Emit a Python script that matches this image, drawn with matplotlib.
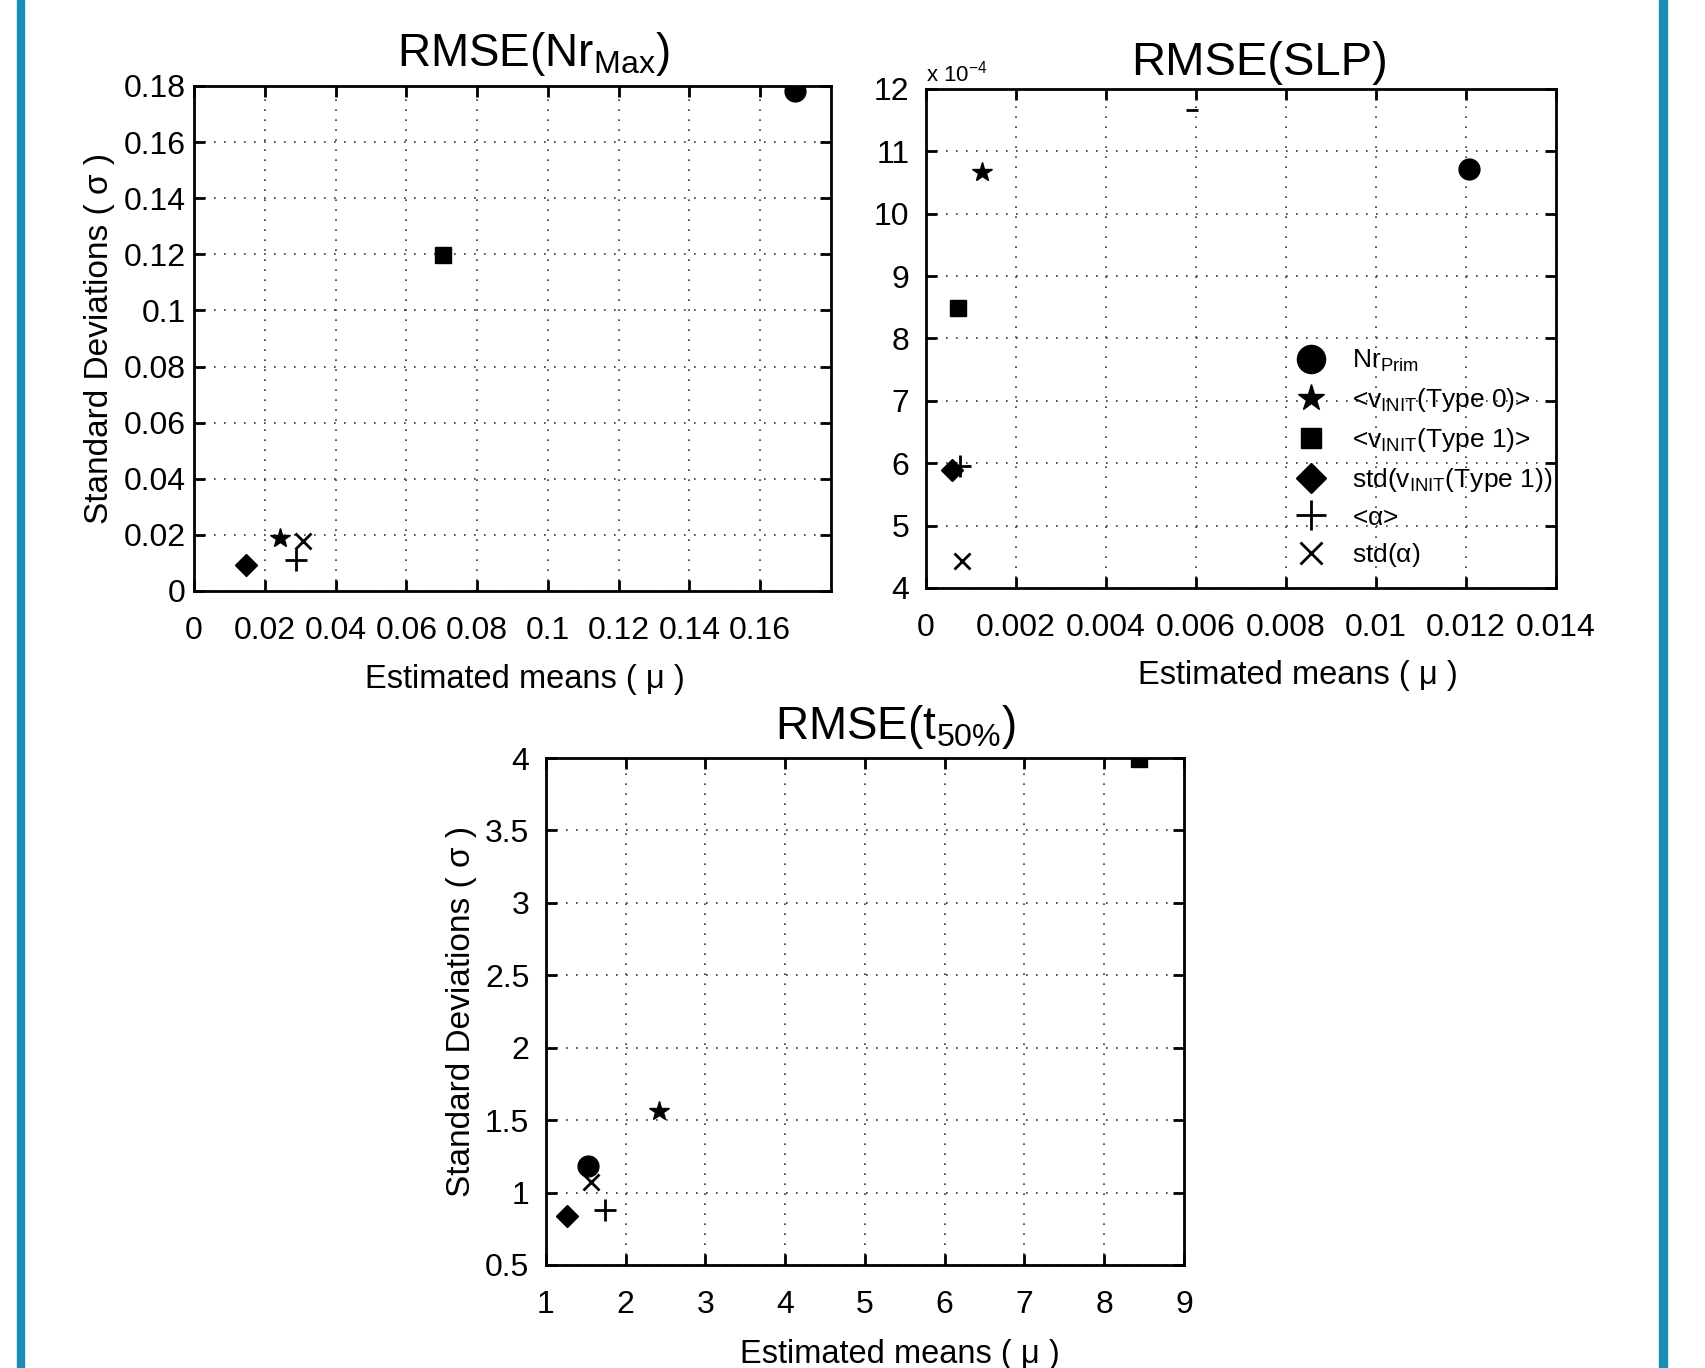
import matplotlib
matplotlib.use('Agg')
import matplotlib.pyplot as plt
from matplotlib.patches import Rectangle

plt.rcParams['font.family'] = ['Liberation Sans', 'DejaVu Sans']
plt.rcParams['mathtext.fontset'] = 'custom'
plt.rcParams['mathtext.rm'] = 'Liberation Sans'
plt.rcParams['mathtext.it'] = 'Liberation Sans'

# series names (legend order)
names = [r'Nr$_{\mathrm{Prim}}$',
         r'<v$_{\mathrm{INIT}}$(Type 0)>',
         r'<v$_{\mathrm{INIT}}$(Type 1)>',
         r'std(v$_{\mathrm{INIT}}$(Type 1))',
         r'<$\mathrm{\alpha}$>',
         r'std($\mathrm{\alpha}$)']

# RMSE(Nr_Max): (mean, std) per series
nrmax_mu = [0.1698, 0.0243, 0.0705, 0.0148, 0.0289, 0.0308]
nrmax_sd = [0.1783, 0.0190, 0.1198, 0.0093, 0.0109, 0.0178]

# RMSE(SLP), std in units of 1e-4
slp_mu = [0.01207, 0.00125, 0.00070, 0.00058, 0.00075, 0.00080]
slp_sd = [10.71, 10.67, 8.49, 5.89, 5.96, 4.44]
slp_stray = ([0.0059], [11.67])

# RMSE(t_50%)
t50_mu = [1.53, 2.42, 8.44, 1.27, 1.74, 1.56]
t50_sd = [1.18, 1.56, 3.99, 0.84, 0.88, 1.07]

nrmax_xticks = [0, 0.02, 0.04, 0.06, 0.08, 0.1, 0.12, 0.14, 0.16]
nrmax_yticks = [0, 0.02, 0.04, 0.06, 0.08, 0.1, 0.12, 0.14, 0.16, 0.18]
slp_xticks = [0, 0.002, 0.004, 0.006, 0.008, 0.01, 0.012, 0.014]
slp_yticks = [4, 5, 6, 7, 8, 9, 10, 11, 12]
t50_xticks = [1, 2, 3, 4, 5, 6, 7, 8, 9]
t50_yticks = [0.5, 1, 1.5, 2, 2.5, 3, 3.5, 4]

markers = ['o', '*', 's', 'D', '+', 'x']
msizes = [15, 15, 11, 11, 16, 12]


def fmt(v):
    return ('%g' % v)


def style_axes(ax, xt, yt, xlim, ylim, ypad):
    ax.set_xlim(*xlim)
    ax.set_ylim(*ylim)
    ax.set_xticks(xt)
    ax.set_xticklabels([fmt(v) for v in xt])
    ax.set_yticks(yt)
    ax.set_yticklabels([fmt(v) for v in yt])
    ax.tick_params(direction='in', top=True, right=True, length=8, width=2,
                   labelsize=23)
    ax.tick_params(axis='x', pad=18)
    ax.tick_params(axis='y', pad=ypad)
    for s in ax.spines.values():
        s.set_linewidth(2)
    ax.grid(True, color='#333333', linestyle=(0, (1, 5)), linewidth=1.2)
    ax.set_axisbelow(True)


def scatter_series(ax, mus, sds):
    for i in range(len(mus)):
        mw = 2 if markers[i] in ('+', 'x') else 1
        ax.plot(mus[i], sds[i], linestyle='none', marker=markers[i],
                markersize=msizes[i], color='black', markeredgewidth=mw,
                label=names[i])


def xlabel_at(ax, xpos):
    ax.set_xlabel('Estimated means ( \u03bc )', fontsize=23.5)
    ax.xaxis.set_label_coords(xpos, -0.145)


fig = plt.figure(figsize=(17.06, 13.68), dpi=100)

# top-left
ax1 = fig.add_axes([0.1137, 0.5680, 0.3734, 0.3692])
style_axes(ax1, nrmax_xticks, nrmax_yticks, (0, 0.18), (0, 0.18), 6)
scatter_series(ax1, nrmax_mu, nrmax_sd)
ax1.set_title(r'RMSE(Nr$_{\mathrm{Max}}$)', fontsize=33, pad=14, x=0.533)
xlabel_at(ax1, 0.519)
ax1.set_ylabel('Standard Deviations ( \u03c3 )', fontsize=24, labelpad=6)

# top-right
ax2 = fig.add_axes([0.5428, 0.5702, 0.3693, 0.3648])
style_axes(ax2, slp_xticks, slp_yticks, (0, 0.014), (4, 12), 12)
scatter_series(ax2, slp_mu, slp_sd)
ax2.plot(slp_stray[0], slp_stray[1], linestyle='none', marker='_',
         markersize=8, color='black', markeredgewidth=2)
ax2.set_title('RMSE(SLP)', fontsize=34, pad=10, x=0.53)
xlabel_at(ax2, 0.59)
ax2.text(0.0, 1.004, r'x 10$^{-4}$', transform=ax2.transAxes, fontsize=16,
         ha='left', va='bottom')
ax2.legend(loc='lower left', bbox_to_anchor=(0.54, 0.0), frameon=False,
           fontsize=19, markerscale=1.35, handletextpad=0.55, labelspacing=0.45,
           borderpad=0.2)

# bottom
ax3 = fig.add_axes([0.3200, 0.0753, 0.3740, 0.3706])
style_axes(ax3, t50_xticks, t50_yticks, (1, 9), (0.5, 4), 12)
scatter_series(ax3, t50_mu, t50_sd)
ax3.set_title(r'RMSE(t$_{\mathrm{50\%}}$)', fontsize=33, pad=14, x=0.548)
xlabel_at(ax3, 0.555)
ax3.set_ylabel('Standard Deviations ( \u03c3 )', fontsize=24, labelpad=6)

# blue side bars
fig.patches.append(Rectangle((17 / 1706, 0), 7 / 1706, 1, transform=fig.transFigure,
                             color='#1a8db5', zorder=5))
fig.patches.append(Rectangle((1659 / 1706, 0), 8 / 1706, 1, transform=fig.transFigure,
                             color='#1a8db5', zorder=5))

fig.savefig('out.png', dpi=100)
